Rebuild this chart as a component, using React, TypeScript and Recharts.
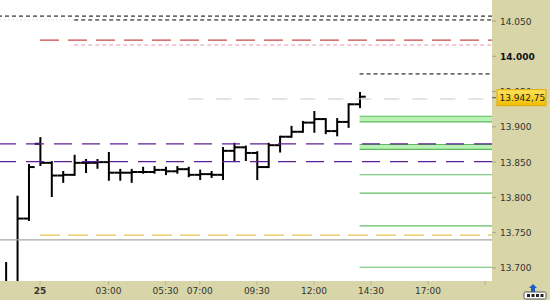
import {
	Bar,
	CartesianGrid,
	ComposedChart,
	ReferenceArea,
	ReferenceLine,
	XAxis,
	YAxis,
} from "recharts";

// 30 minute bars, night session of the 24th into the 25th
const times = [
	"22:30", "23:00", "23:30", "00:00", "00:30", "01:00", "01:30", "02:00",
	"02:30", "03:00", "03:30", "04:00", "04:30", "05:00", "05:30", "06:00",
	"06:30", "07:00", "07:30", "08:00", "08:30", "09:00", "09:30", "10:00",
	"10:30", "11:00", "11:30", "12:00", "12:30", "13:00", "13:30", "14:00",
];
const opens = [
	13676, 13675, 13770, 13876, 13849, 13831, 13832, 13849, 13849, 13850, 13835,
	13835, 13836, 13836, 13839, 13837, 13840, 13832, 13833, 13832, 13866, 13871,
	13863, 13843, 13874, 13886, 13893, 13906, 13911, 13894, 13907, 13932,
];
const highs = [
	13707, 13801, 13846, 13884, 13850, 13836, 13859, 13853, 13853, 13863, 13839,
	13839, 13842, 13843, 13842, 13843, 13842, 13838, 13836, 13870, 13876, 13872,
	13864, 13876, 13886, 13900, 13907, 13921, 13911, 13911, 13932, 13948,
];
const lows = [
	13665, 13665, 13768, 13846, 13802, 13822, 13832, 13836, 13842, 13825, 13825,
	13822, 13835, 13835, 13833, 13835, 13830, 13826, 13829, 13826, 13852, 13853,
	13826, 13843, 13865, 13886, 13893, 13893, 13891, 13888, 13900, 13928,
];
const closes = [
	13678, 13770, 13843, 13849, 13831, 13832, 13849, 13849, 13850, 13835, 13835,
	13836, 13836, 13839, 13837, 13840, 13832, 13833, 13832, 13866, 13871, 13863,
	13843, 13874, 13886, 13893, 13906, 13911, 13894, 13907, 13932, 13942.75,
];

const lastPrice = 13942.75;

// axis ticks
const xTickHours = [0, 3, 5.5, 7, 9.5, 12, 14.5, 17, 19.5];
const xTickLabels = ["25", "03:00", "05:30", "07:00", "09:30", "12:00", "14:30", "17:00", ""];
const yTicks = [13700, 13750, 13800, 13850, 13900, 13950, 14000, 14050];

// horizontal levels
const topLevel = 14057;
const secondLevel = 14051.5;
const redLevel = 14023;
const pinkLevel = 14016;
const targetLevel = 13975;
const grayLevel = 13939.5;
const greenBands = [
	[13907, 13915],
	[13868, 13875],
];
const purpleLevels = [13875.8, 13850.7];
const greenLevels = [13832, 13806, 13759.6, 13701];
const yellowLevel = 13746.4;
const prevClose = 13739.7;

const X_MIN = -1.75;
const X_MAX = 19.8;
const Y_MIN = 13681.5;
const Y_MAX = 14079.8;

const toHours = (s: string) => {
	const [hh, mm] = s.split(":").map(Number);
	const h = hh + mm / 60;
	return hh >= 18 ? h - 24 : h;
};

const chartData = times.map((t, i) => ({
	t: toHours(t),
	range: [lows[i], highs[i]],
	open: opens[i],
	close: closes[i],
}));

const fmtTick = (v: number) => (v / 1000).toFixed(3);
const fmtPrice = (v: number) => {
	const [ip, dp] = v.toFixed(2).split(".");
	return ip.replace(/\B(?=(\d{3})+(?!\d))/g, ".") + "," + dp;
};

const FONT = "'DejaVu Sans', sans-serif";

const OhlcBar = (props: any) => {
	const { x, y, width, height, payload } = props;
	if (x == null || y == null || height == null) return null;
	const cx = x + width / 2;
	const [lo, hi] = payload.range;
	const k = hi === lo ? 0 : height / (hi - lo);
	const yOpen = y + (hi - payload.open) * k;
	const yClose = y + (hi - payload.close) * k;
	return (
		<g stroke="#000" strokeWidth={2} fill="none">
			<line x1={cx} y1={y - 1} x2={cx} y2={y + height + 1} />
			<line x1={cx - 5.7} y1={yOpen} x2={cx} y2={yOpen} />
			<line x1={cx} y1={yClose} x2={cx + 5.7} y2={yClose} />
		</g>
	);
};

const XTick = ({ x, y, payload }: any) => {
	const i = xTickHours.indexOf(payload.value);
	const label = i >= 0 ? xTickLabels[i] : "";
	return (
		<g>
			<line x1={x} y1={y} x2={x} y2={y + 4} stroke="#B9B68E" />
			<text
				x={x}
				y={y + 13}
				textAnchor="middle"
				fontFamily={FONT}
				fontSize={9}
				fontWeight={label === "25" ? "bold" : "normal"}
				fill="#333"
			>
				{label}
			</text>
		</g>
	);
};

const YTick = ({ x, y, payload }: any) => {
	const v = payload.value;
	if (v === lastPrice) {
		return (
			<g>
				<defs>
					<linearGradient id="goldBox" x1="0" y1="0" x2="0" y2="1">
						<stop offset="0%" stopColor="#FFE45A" />
						<stop offset="100%" stopColor="#F2BC00" />
					</linearGradient>
				</defs>
				<line x1={x} y1={y + 1} x2={x + 4} y2={y + 1} stroke="#555" />
				<rect
					x={x + 5}
					y={y - 7}
					width={49}
					height={16}
					fill="url(#goldBox)"
					stroke="#E3A900"
				/>
				<text x={x + 7.5} y={y + 4.5} fontFamily={FONT} fontSize={9} fill="#222">
					{fmtPrice(v)}
				</text>
			</g>
		);
	}
	return (
		<g>
			<line x1={x} y1={y} x2={x + 4} y2={y} stroke="#A9A67E" />
			<text
				x={x + 8}
				y={y + 3.5}
				fontFamily={FONT}
				fontSize={9}
				fontWeight={v === 14000 ? "bold" : "normal"}
				fill={v === 14000 ? "#111" : "#333"}
			>
				{fmtTick(v)}
			</text>
		</g>
	);
};

const seg = (x1: number, x2: number, y: number) => [
	{ x: x1, y },
	{ x: x2, y },
];

export default function App() {
	return (
		<div
			style={{
				position: "absolute",
				left: 0,
				top: 0,
				width: 550,
				height: 300,
				background: "#D8D5A8",
			}}
		>
			<ComposedChart
				width={550}
				height={300}
				data={chartData}
				margin={{ top: 0, right: 0, bottom: 0, left: 0 }}
			>
				<CartesianGrid horizontal={false} vertical={false} fill="#FFFFFF" />
				<XAxis
					dataKey="t"
					type="number"
					domain={[X_MIN, X_MAX]}
					allowDataOverflow
					ticks={xTickHours}
					interval={0}
					tick={<XTick />}
					tickLine={false}
					axisLine={false}
					tickSize={0}
					tickMargin={0}
					height={19}
				/>
				<YAxis
					orientation="right"
					type="number"
					domain={[Y_MIN, Y_MAX]}
					allowDataOverflow
					ticks={[...yTicks, lastPrice]}
					interval={0}
					tick={<YTick />}
					tickLine={false}
					axisLine={false}
					tickSize={0}
					tickMargin={0}
					width={58}
				/>

				<ReferenceLine y={topLevel} stroke="#000" strokeDasharray="4 3" />
				<ReferenceLine
					segment={seg(X_MIN, 1.5, secondLevel)}
					stroke="#E2E2E2"
					strokeDasharray="2 2"
				/>
				<ReferenceLine
					segment={seg(1.5, X_MAX, secondLevel)}
					stroke="#000"
					strokeDasharray="4 3"
				/>
				<ReferenceLine
					segment={seg(0, X_MAX, redLevel)}
					stroke="#C84848"
					strokeWidth={1.2}
					strokeDasharray="19 9"
				/>
				<ReferenceLine
					segment={seg(1.5, X_MAX, pinkLevel)}
					stroke="#E794B4"
					strokeDasharray="4 3"
				/>
				<ReferenceLine
					segment={seg(14, X_MAX, targetLevel)}
					stroke="#000"
					strokeDasharray="4 3"
				/>
				<ReferenceLine
					segment={seg(6.5, X_MAX, grayLevel)}
					stroke="#CACACA"
					strokeWidth={1.2}
					strokeDasharray="15 13"
				/>
				{greenBands.map(([lo, hi], i) => (
					<ReferenceArea
						key={"band" + i}
						x1={14}
						x2={X_MAX}
						y1={lo}
						y2={hi}
						fill="#B9F2B4"
						fillOpacity={1}
						stroke="none"
					/>
				))}
				{greenBands.flat().map((v, i) => (
					<ReferenceLine
						key={"bandEdge" + i}
						segment={seg(14, X_MAX, v)}
						stroke="#5DBB5D"
						strokeWidth={1.2}
					/>
				))}
				{purpleLevels.map((v, i) => (
					<ReferenceLine
						key={"purple" + i}
						y={v}
						stroke="#5E1E96"
						strokeWidth={1.3}
						strokeDasharray="18 10"
					/>
				))}
				{greenLevels.map((v, i) => (
					<ReferenceLine
						key={"green" + i}
						segment={seg(14, X_MAX, v)}
						stroke="#62BE62"
						strokeWidth={1.1}
					/>
				))}
				<ReferenceLine
					segment={seg(0, X_MAX, yellowLevel)}
					stroke="#E8C452"
					strokeWidth={1.3}
					strokeDasharray="20 8"
				/>
				<ReferenceLine y={prevClose} stroke="#A6A6A6" strokeWidth={1.2} />

				<Bar
					dataKey="range"
					barSize={12}
					shape={OhlcBar}
					isAnimationActive={false}
				/>
			</ComposedChart>
			<svg
				width={26}
				height={16}
				style={{ position: "absolute", left: 522, top: 284 }}
			>
				<polygon points="11,0 15,4 13,4 13,8 9,8 9,4 7,4" fill="#1E5FC8" />
				<rect x={2} y={8} width={22} height={7} rx={1.5} fill="#FFF" stroke="#555" />
				{[0, 1, 2, 3].map((i) => (
					<rect key={i} x={5 + i * 4.5} y={10} width={3} height={3} fill="#222" />
				))}
			</svg>
		</div>
	);
}
